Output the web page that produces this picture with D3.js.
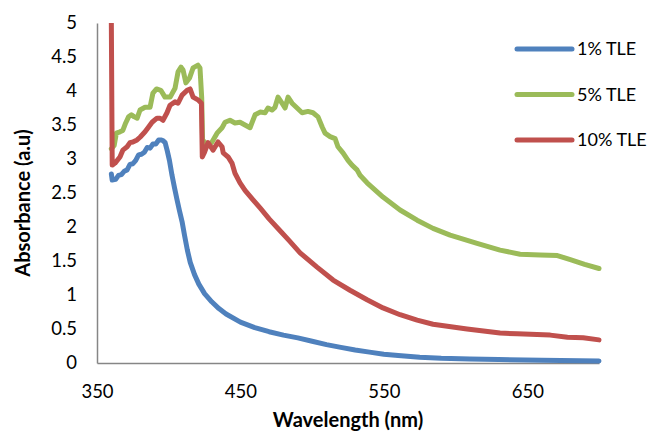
<!DOCTYPE html>
<html>
<head>
<meta charset="utf-8">
<script src="https://cdn.jsdelivr.net/npm/d3@7"></script>
<style>
  body { margin: 0; background: #fff; }
  text { font-family: Lato, "Open Sans", sans-serif; fill: #000; }
</style>
</head>
<body>
<div id="chart"></div>
<script>
// wavelength (nm) / absorbance pairs
const nm1 = [360, 360.6, 363, 365, 367, 369, 371, 373, 375, 377, 379, 381, 383, 385, 387, 389, 391, 393, 394.5, 396, 397.5, 399, 400.5, 402.3, 404, 405.8, 407.5, 409.3, 411, 413, 415, 418, 421, 425, 430, 435, 440, 450, 460, 470, 480, 490, 500, 510, 520, 530, 540, 550, 560, 575, 590, 610, 630, 660, 700]
const abs1 = [2.78, 2.69, 2.70, 2.76, 2.77, 2.82, 2.84, 2.92, 2.93, 2.98, 3.06, 3.07, 3.10, 3.17, 3.16, 3.22, 3.22, 3.28, 3.28, 3.27, 3.24, 3.12, 2.98, 2.76, 2.58, 2.40, 2.24, 2.08, 1.88, 1.66, 1.48, 1.30, 1.16, 1.02, 0.90, 0.80, 0.72, 0.60, 0.52, 0.46, 0.41, 0.37, 0.32, 0.27, 0.23, 0.19, 0.16, 0.13, 0.11, 0.085, 0.07, 0.06, 0.05, 0.04, 0.03]

const nm5 = [360, 362, 363.5, 366, 368, 370, 372, 374, 376, 378, 380, 383.5, 387, 389, 391.5, 394.5, 397.4, 401, 404.4, 406.5, 408.6, 410, 412, 414.5, 417, 420.4, 421.8, 423, 423.6, 427.4, 430.2, 433.7, 437.2, 439.3, 442.7, 446.2, 449.7, 453.2, 456.7, 460.2, 463.7, 467.2, 469.2, 472, 474.1, 476.2, 479, 481.1, 483.2, 486, 489.5, 493, 497.1, 500.6, 504.1, 507, 509, 512.5, 516, 518, 521.5, 525, 527.8, 531.3, 533.4, 538.3, 549.4, 561.3, 573.2, 584.3, 596.2, 615, 631, 645, 659, 671, 680, 690, 700]
const abs5 = [3.15, 3.20, 3.38, 3.40, 3.42, 3.53, 3.62, 3.65, 3.62, 3.60, 3.72, 3.76, 3.76, 3.97, 4.03, 4.01, 3.91, 3.91, 4.04, 4.28, 4.35, 4.31, 4.12, 4.19, 4.34, 4.38, 4.34, 3.90, 3.28, 3.20, 3.25, 3.38, 3.46, 3.54, 3.57, 3.53, 3.54, 3.50, 3.46, 3.65, 3.69, 3.68, 3.75, 3.72, 3.76, 3.91, 3.82, 3.75, 3.91, 3.82, 3.75, 3.68, 3.70, 3.68, 3.62, 3.47, 3.38, 3.33, 3.30, 3.18, 3.09, 2.98, 2.91, 2.84, 2.76, 2.65, 2.44, 2.25, 2.10, 1.98, 1.88, 1.76, 1.66, 1.60, 1.59, 1.58, 1.52, 1.45, 1.39]

const nm10 = [360, 360.6, 362.6, 366, 368, 371, 373, 375, 377.9, 380, 383.5, 385.6, 388.4, 391.8, 394, 396, 398.8, 400.9, 404.4, 406.5, 409.3, 412.8, 414.9, 417, 420.4, 422.8, 423.4, 425, 427.4, 430.9, 434.4, 437.2, 438, 441.4, 444.1, 446.2, 449.7, 453.2, 458.8, 463.7, 470, 477, 484, 491.6, 503.4, 514.6, 526.4, 538.3, 549.4, 561.3, 573.2, 584.3, 608, 631, 643, 666, 678, 689, 700]
const abs10 = [5.0, 2.91, 2.94, 3.03, 3.13, 3.18, 3.24, 3.25, 3.28, 3.32, 3.40, 3.46, 3.54, 3.60, 3.60, 3.57, 3.68, 3.79, 3.84, 3.82, 3.94, 4.01, 4.03, 3.91, 3.87, 3.82, 3.03, 3.10, 3.24, 3.13, 3.25, 3.18, 3.09, 3.03, 2.94, 2.79, 2.65, 2.54, 2.40, 2.28, 2.12, 1.96, 1.80, 1.62, 1.41, 1.22, 1.07, 0.93, 0.81, 0.71, 0.63, 0.57, 0.50, 0.44, 0.43, 0.41, 0.38, 0.37, 0.34]

const seriesNames = ['1% TLE', '5% TLE', '10% TLE']
const seriesColors = ['#4F81BD', '#9BBB59', '#C0504D']
const xTicks = [350, 450, 550, 650]
const yTicks = [0, 0.5, 1, 1.5, 2, 2.5, 3, 3.5, 4, 4.5, 5]

const width = 648
const height = 432
const plot = { left: 97, right: 599, top: 23, bottom: 363 }

const series = [
  { name: seriesNames[0], color: seriesColors[0], values: nm1.map((w, i) => [w, abs1[i]]) },
  { name: seriesNames[1], color: seriesColors[1], values: nm5.map((w, i) => [w, abs5[i]]) },
  { name: seriesNames[2], color: seriesColors[2], values: nm10.map((w, i) => [w, abs10[i]]) }
]

const svg = d3.select('#chart')
  .append('svg')
  .attr('width', width)
  .attr('height', height)

svg.append('rect').attr('width', width).attr('height', height).attr('fill', '#fff')

const xScale = d3.scaleLinear().domain([350, 700]).range([plot.left, plot.right])
const yScale = d3.scaleLinear().domain([0, 5]).range([plot.bottom, plot.top])

const xAxis = d3.axisBottom(xScale).tickValues(xTicks).tickSize(0).tickSizeOuter(0).tickPadding(22)
const yAxis = d3.axisLeft(yScale).tickValues(yTicks).tickSize(0).tickSizeOuter(0).tickPadding(20)
  .tickFormat(d3.format('~g'))

const gx = svg.append('g')
  .attr('transform', 'translate(0,' + plot.bottom + ')')
  .call(xAxis)
const gy = svg.append('g')
  .attr('transform', 'translate(' + plot.left + ',0)')
  .call(yAxis)

;[gx, gy].forEach(g => {
  g.select('.domain').attr('stroke', '#868686').attr('stroke-width', 1.5)
  g.selectAll('text').style('font-size', '18.5px').attr('fill', '#000')
})

svg.append('clipPath').attr('id', 'plotclip')
  .append('rect')
  .attr('x', plot.left)
  .attr('y', plot.top)
  .attr('width', width - plot.left)
  .attr('height', plot.bottom - plot.top + 10)

const line = d3.line().x(d => xScale(d[0])).y(d => yScale(d[1]))

svg.append('g')
  .attr('clip-path', 'url(#plotclip)')
  .selectAll('path')
  .data(series)
  .join('path')
  .attr('d', d => line(d.values))
  .attr('fill', 'none')
  .attr('stroke', d => d.color)
  .attr('stroke-width', 5)
  .attr('stroke-linejoin', 'round')
  .attr('stroke-linecap', 'round')

// legend
const legend = svg.append('g')
  .selectAll('g')
  .data(series)
  .join('g')
  .attr('transform', (d, i) => 'translate(517,' + (49 + i * 45.5) + ')')
legend.append('line')
  .attr('x1', 0).attr('x2', 55)
  .attr('stroke', d => d.color)
  .attr('stroke-width', 5)
  .attr('stroke-linecap', 'round')
legend.append('text')
  .attr('x', 60)
  .attr('dy', '0.35em')
  .style('font-size', '18px')
  .text(d => d.name)

// axis titles
svg.append('text')
  .attr('x', (plot.left + plot.right) / 2)
  .attr('y', 427)
  .attr('text-anchor', 'middle')
  .style('font-size', '20px')
  .style('font-weight', 'bold')
  .text('Wavelength (nm)')

svg.append('text')
  .attr('transform', 'translate(30,203) rotate(-90)')
  .attr('text-anchor', 'middle')
  .style('font-size', '20px')
  .style('font-weight', 'bold')
  .text('Absorbance (a.u)')
</script>
</body>
</html>
